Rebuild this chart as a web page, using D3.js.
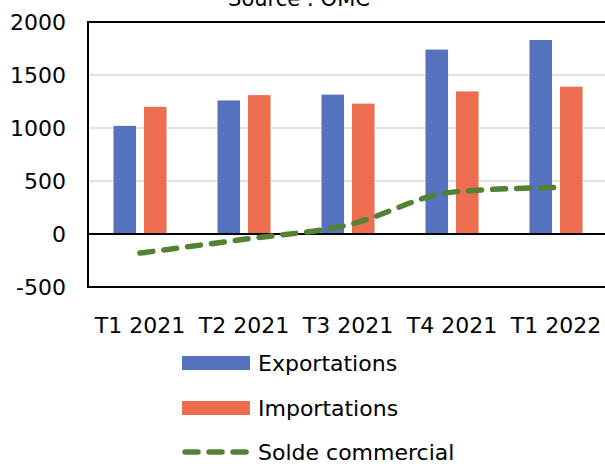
<!DOCTYPE html>
<html>
<head>
<meta charset="utf-8">
<script src="https://cdn.jsdelivr.net/npm/d3@7"></script>
<style>
  body { margin: 0; background: #fff; }
  svg { display: block; font-family: "DejaVu Sans", sans-serif; }
</style>
</head>
<body>
<div id="chart"></div>
<script>
// data
const categories = ['T1 2021', 'T2 2021', 'T3 2021', 'T4 2021', 'T1 2022'];
const exportations = [1020, 1260, 1315, 1740, 1830];
const importations = [1200, 1310, 1230, 1345, 1390];
const soldeCommercial = [-180, -50, 85, 395, 440];
const yTicks = [-500, 0, 500, 1000, 1500, 2000];
const seriesNames = ['Exportations', 'Importations', 'Solde commercial'];

const width = 605, height = 464;
const margin = { top: 22, right: -3, bottom: 177, left: 88 };
const innerW = width - margin.left - margin.right;
const innerH = height - margin.top - margin.bottom;
const colors = { exp: '#5672BF', imp: '#EC6D4F', solde: '#548235' };
const fontFamily = '"DejaVu Sans", sans-serif';

const svg = d3.select('#chart').append('svg')
  .attr('width', width)
  .attr('height', height);

// title, cut off at the top like the source picture
svg.append('text')
  .attr('x', 299).attr('y', 6)
  .attr('text-anchor', 'middle')
  .attr('font-size', 21)
  .text('Source : OMC');

const g = svg.append('g').attr('transform', `translate(${margin.left},${margin.top})`);

const x0 = d3.scaleBand().domain(categories).range([0, innerW]).paddingInner(0.49).paddingOuter(0.245);
const x1 = d3.scaleBand().domain(['exp', 'imp']).range([0, x0.bandwidth()]).paddingInner(0.26);
const y = d3.scaleLinear().domain([-500, 2000]).range([innerH, 0]);

// gridlines
g.append('g')
  .selectAll('line')
  .data(yTicks.filter(t => t > 0 && t < 2000))
  .join('line')
  .attr('x1', 0).attr('x2', innerW)
  .attr('y1', d => y(d)).attr('y2', d => y(d))
  .attr('stroke', '#d9d9d9').attr('stroke-width', 1.3);

// y tick labels
g.append('g')
  .attr('transform', 'translate(-22,0)')
  .call(d3.axisLeft(y).tickValues(yTicks).tickFormat(d => String(d)).tickSize(0).tickPadding(0))
  .call(a => a.select('.domain').remove())
  .selectAll('text')
  .attr('font-size', 22).attr('fill', '#000')
  .attr('font-family', fontFamily);

// bars
const groups = g.append('g').selectAll('g')
  .data(categories.map((c, i) => ({ c, vals: [{ k: 'exp', v: exportations[i] }, { k: 'imp', v: importations[i] }] })))
  .join('g')
  .attr('transform', d => `translate(${x0(d.c)},0)`);

groups.selectAll('rect')
  .data(d => d.vals)
  .join('rect')
  .attr('x', d => x1(d.k))
  .attr('width', x1.bandwidth())
  .attr('y', d => y(Math.max(0, d.v)))
  .attr('height', d => Math.abs(y(d.v) - y(0)))
  .attr('fill', d => colors[d.k]);

// zero line
g.append('line')
  .attr('x1', 0).attr('x2', innerW)
  .attr('y1', y(0)).attr('y2', y(0))
  .attr('stroke', '#000').attr('stroke-width', 1.8);

// frame
g.append('rect')
  .attr('x', 0).attr('y', 0)
  .attr('width', innerW).attr('height', innerH)
  .attr('fill', 'none').attr('stroke', '#000').attr('stroke-width', 2);

// solde line
const line = d3.line()
  .x((d, i) => x0(categories[i]) + x0.bandwidth() / 2)
  .y(d => y(d))
  .curve(d3.curveMonotoneX);

g.append('path')
  .datum(soldeCommercial)
  .attr('d', line)
  .attr('fill', 'none')
  .attr('stroke', colors.solde)
  .attr('stroke-width', 5.5)
  .attr('stroke-linecap', 'round')
  .attr('stroke-dasharray', '13,11');

// x labels
g.append('g')
  .attr('transform', `translate(0,${innerH})`)
  .call(d3.axisBottom(x0).tickSize(0).tickPadding(30))
  .call(a => a.select('.domain').remove())
  .selectAll('text')
  .attr('font-size', 22).attr('fill', '#000')
  .attr('font-family', fontFamily);

// legend
const legend = svg.append('g').attr('transform', 'translate(182,0)');
const legendY = [363, 408, 452];
seriesNames.forEach((name, i) => {
  const row = legend.append('g').attr('transform', `translate(0,${legendY[i]})`);
  if (i < 2) {
    row.append('rect')
      .attr('x', 0).attr('y', -7).attr('width', 68).attr('height', 14)
      .attr('fill', i === 0 ? colors.exp : colors.imp);
  } else {
    row.append('line')
      .attr('x1', 3).attr('x2', 65).attr('y1', 0).attr('y2', 0)
      .attr('stroke', colors.solde).attr('stroke-width', 5.5)
      .attr('stroke-linecap', 'round').attr('stroke-dasharray', '13,11');
  }
  row.append('text')
    .attr('x', 76).attr('y', 0).attr('dy', '0.35em')
    .attr('font-size', 22)
    .text(name);
});
</script>
</body>
</html>
